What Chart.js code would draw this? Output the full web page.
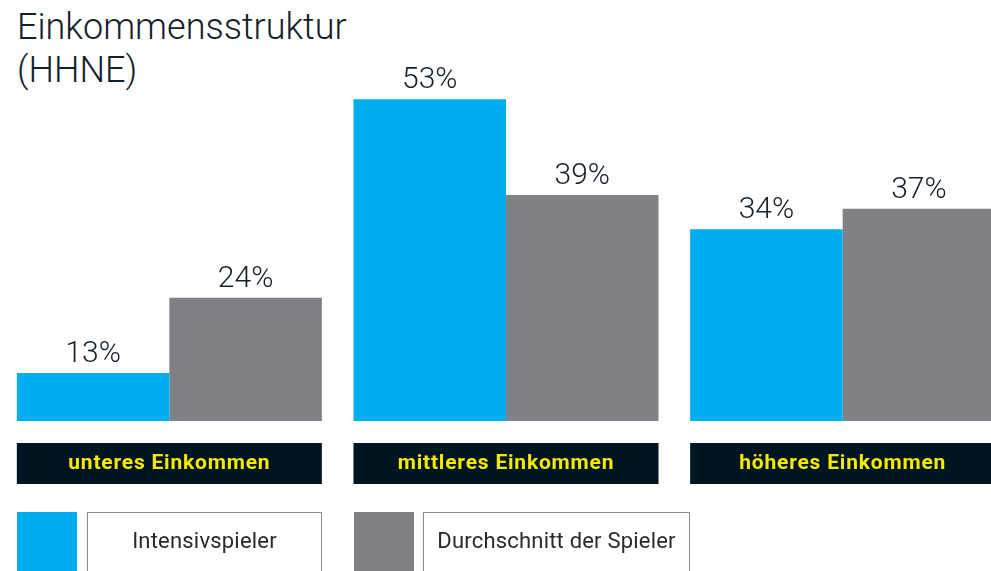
<!DOCTYPE html>
<html>
<head>
<meta charset="utf-8">
<script src="https://cdn.jsdelivr.net/npm/chart.js@4/dist/chart.umd.min.js"></script>
<style>
  html, body { margin: 0; padding: 0; background: #fff; overflow: hidden; }
  body { width: 991px; height: 571px; position: relative; font-family: Roboto, sans-serif; }
  .title { position: absolute; left: 17px; top: 6px; font-size: 36px; font-weight: 300; line-height: 43px; color: #14202c; }
  .wrap { position: absolute; left: 1px; top: 0; width: 1010px; height: 571px; }
  .sw { position: absolute; top: 512px; width: 60px; height: 70px; }
  .lbox { position: absolute; top: 512px; height: 70px; border: 1px solid #8a8a8a; box-sizing: border-box;
          font-size: 22px; color: #2a2a2a; text-align: center; line-height: 56px; letter-spacing: 0.2px; }
</style>
</head>
<body>
<div class="title">Einkommensstruktur<br>(HHNE)</div>
<div class="wrap"><canvas id="incomeChart"></canvas></div>

<div class="sw" style="left:17px;background:#00aeef"></div>
<div class="lbox" style="left:87px;width:235px">Intensivspieler</div>
<div class="sw" style="left:354px;background:#808184"></div>
<div class="lbox" style="left:423px;width:267px">Durchschnitt der Spieler</div>

<script>
// Chart data
const categories = ['unteres Einkommen', 'mittleres Einkommen', 'höheres Einkommen'];
const seriesNames = ['Intensivspieler', 'Durchschnitt der Spieler'];
const intensivValues = [13, 53, 34];
const durchschnittValues = [24, 39, 37];

const BLUE = '#00aeef';
const GREY = '#808184';

// Percent labels above bars + dark category boxes below the groups
const overlayPlugin = {
    id: 'overlay',
    afterDatasetsDraw(chart) {
        const ctx = chart.ctx;
        const m0 = chart.getDatasetMeta(0);
        const m1 = chart.getDatasetMeta(1);
        ctx.save();

        // value labels
        ctx.font = '300 30px Roboto';
        ctx.fillStyle = '#14202c';
        ctx.textAlign = 'center';
        ctx.textBaseline = 'alphabetic';
        chart.data.datasets.forEach((ds, di) => {
            chart.getDatasetMeta(di).data.forEach((bar, i) => {
                ctx.fillText(ds.data[i] + '%', bar.x, bar.y - 11);
            });
        });

        // category boxes
        const bottom = chart.chartArea.bottom;
        categories.forEach((cat, i) => {
            const b0 = m0.data[i];
            const b1 = m1.data[i];
            const left = b0.x - b0.width / 2;
            const right = b1.x + b1.width / 2;
            ctx.fillStyle = '#001522';
            ctx.fillRect(left, bottom + 22, right - left, 41);
            ctx.fillStyle = '#f5e900';
            ctx.font = 'bold 21px Roboto';
            ctx.letterSpacing = '0.8px';
            ctx.textBaseline = 'middle';
            ctx.fillText(cat, (left + right) / 2, bottom + 43);
        });
        ctx.restore();
    }
};

document.addEventListener('DOMContentLoaded', () => {
    const ctx = document.getElementById('incomeChart');
    new Chart(ctx, {
        type: 'bar',
        data: {
            labels: categories,
            datasets: [
                {
                    label: seriesNames[0],
                    data: intensivValues,
                    backgroundColor: BLUE,
                    borderWidth: 0
                },
                {
                    label: seriesNames[1],
                    data: durchschnittValues,
                    backgroundColor: GREY,
                    borderWidth: 0
                }
            ]
        },
        options: {
            responsive: true,
            maintainAspectRatio: false,
            animation: false,
            layout: {
                padding: { top: 65, bottom: 150, left: 0, right: 0 }
            },
            datasets: {
                bar: {
                    categoryPercentage: 0.906,
                    barPercentage: 1.0
                }
            },
            plugins: {
                legend: { display: false },
                tooltip: { enabled: false }
            },
            scales: {
                x: { display: false },
                y: {
                    display: false,
                    min: 6,
                    max: 58
                }
            }
        },
        plugins: [overlayPlugin]
    });
});
</script>
</body>
</html>
